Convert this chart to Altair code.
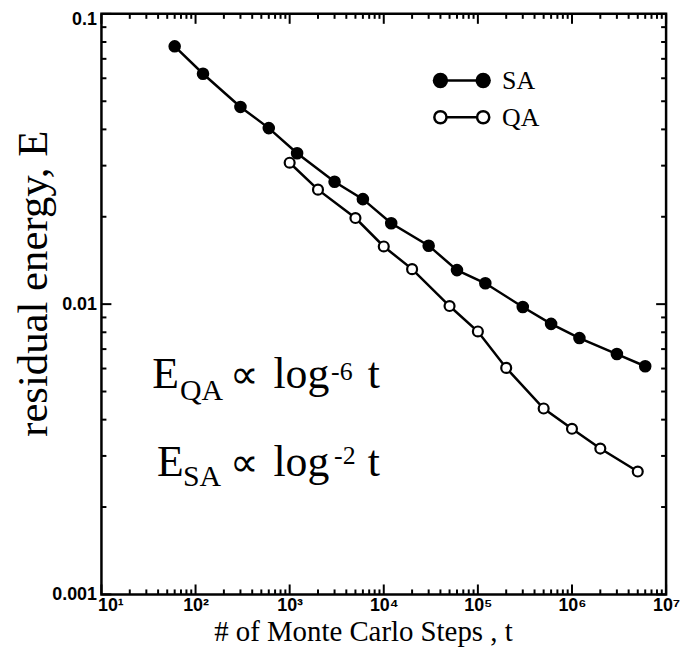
import altair as alt
import pandas as pd

# ---- data ----
sa_t = [60, 120, 300, 600, 1200, 3000, 6000, 12000, 30000, 60000, 120000,
        300000, 600000, 1200000, 3000000, 6000000]
sa_e = [0.0773, 0.0622, 0.0478, 0.0404, 0.0331, 0.0264, 0.0230, 0.0190,
        0.0159, 0.0131, 0.0118, 0.00978, 0.00855, 0.00764, 0.00673, 0.00611]
qa_t = [1000, 2000, 5000, 10000, 20000, 50000, 100000, 200000, 500000,
        1000000, 2000000, 5000000]
qa_e = [0.0307, 0.0248, 0.0198, 0.0158, 0.0132, 0.00985, 0.00805, 0.00603,
        0.00437, 0.00372, 0.00318, 0.00265]

x_major = [10, 100, 1000, 10000, 100000, 1000000, 10000000]
x_minor = [m * 10 ** k for k in range(1, 7) for m in range(2, 10)]
y_major = [0.001, 0.01, 0.1]
y_minor = [m * 10 ** k for k in (-3, -2) for m in range(2, 10)]

x_title = "# of Monte Carlo Steps , t"
y_title = "residual energy, E"

sa = pd.DataFrame({"t": sa_t, "E": sa_e})
qa = pd.DataFrame({"t": qa_t, "E": qa_e})

W, H = 568, 584
MAJ, MIN = 10, 5

xscale = alt.Scale(type="log", domain=[10, 1e7], nice=False)
yscale = alt.Scale(type="log", domain=[0.001, 0.1], nice=False)

sup = "['⁰','¹','²','³','⁴','⁵','⁶','⁷','⁸','⁹']"

x_axis = alt.Axis(
    orient="bottom", values=x_major, ticks=False, domain=False, grid=False,
    labelPadding=2, labelFlush=False, labelOverlap=False,
    labelOffset={"condition": {"test": "datum.value <= 10", "value": 9}, "value": 0},
    labelExpr="'10' + " + sup + "[round(log(datum.value)/LN10)]",
    titleFontSize=29, titleX=263, titleY=46, titleBaseline="alphabetic",
    titleAlign="center",
)
y_axis = alt.Axis(
    orient="left", values=y_major, ticks=False, domain=False, grid=False,
    labelPadding=5, labelFlush=False, labelOverlap=False, format="~g",
    labelOffset={"condition": {"test": "datum.value >= 0.1", "value": 6}, "value": 0},
    titleFontSize=43, titleX=-55, titleY=271, titleBaseline="alphabetic",
    titleAlign="center", titleAngle=270,
)


def X(field="t"):
    return alt.X(field + ":Q", scale=xscale, axis=x_axis, title=x_title)


def Y(field="E"):
    return alt.Y(field + ":Q", scale=yscale, axis=y_axis, title=y_title)


qa_line = alt.Chart(qa).mark_line(color="black", strokeWidth=2.5).encode(x=X(), y=Y())
sa_line = alt.Chart(sa).mark_line(color="black", strokeWidth=2.5).encode(x=X(), y=Y())
qa_pts = alt.Chart(qa).mark_point(shape="circle", filled=True, fill="white",
                                  stroke="black", strokeWidth=2.2, size=100,
                                  opacity=1).encode(x=X(), y=Y())
sa_pts = alt.Chart(sa).mark_point(shape="circle", filled=True, color="black",
                                  size=160, opacity=1).encode(x=X(), y=Y())


# inward tick marks on all four sides, placed by the same scales
def xticks(vals, yc, length):
    return alt.Chart(pd.DataFrame({"v": vals})).mark_tick(
        color="black", thickness=2, size=length, orient="vertical",
        opacity=1).encode(x=X("v"), y=alt.value(yc))


def yticks(vals, x0, x1):
    return alt.Chart(pd.DataFrame({"v": vals})).mark_rule(
        color="black", strokeWidth=2, orient="horizontal").encode(
        y=Y("v"), x=alt.value(x0), x2=alt.value(x1))


ticks = [
    xticks(x_major, H - MAJ / 2, MAJ), xticks(x_minor, H - MIN / 2, MIN),
    xticks(x_major, MAJ / 2, MAJ), xticks(x_minor, MIN / 2, MIN),
    yticks(y_major, 0, MAJ), yticks(y_minor, 0, MIN),
    yticks(y_major, W - MAJ, W), yticks(y_minor, W - MIN, W),
]

one = pd.DataFrame({"a": [0]})


def txt(s, x, y, size):
    return alt.Chart(one).mark_text(text=s, align="left", baseline="alphabetic",
                                    font="Liberation Serif", fontSize=size,
                                    color="black").encode(
        x=alt.value(x), y=alt.value(y))


annots = [
    txt("E", 51, 376, 44), txt("QA", 79, 388, 30), txt("∝", 129, 376, 40),
    txt("log", 173, 376, 44), txt("-6", 231, 368, 26), txt("t", 268, 376, 44),
    txt("E", 56, 465, 44), txt("SA", 82, 475, 30), txt("∝", 129, 465, 40),
    txt("log", 173, 465, 44), txt("-2", 234, 453, 26), txt("t", 268, 465, 44),
]

# legend
leg = [
    alt.Chart(one).mark_rule(color="black", strokeWidth=2.5).encode(
        x=alt.value(341), x2=alt.value(384), y=alt.value(67)),
    alt.Chart(one).mark_rule(color="black", strokeWidth=2.5).encode(
        x=alt.value(341), x2=alt.value(384), y=alt.value(104)),
]
for px in (341, 384):
    leg.append(alt.Chart(one).mark_point(shape="circle", filled=True, color="black",
                                         size=240, opacity=1).encode(
        x=alt.value(px), y=alt.value(67)))
    leg.append(alt.Chart(one).mark_point(shape="circle", filled=True, fill="white",
                                         stroke="black", strokeWidth=2.5, size=150,
                                         opacity=1).encode(
        x=alt.value(px), y=alt.value(104)))
leg.append(txt("SA", 403, 76, 26))
leg.append(txt("QA", 403, 113, 26))

chart = alt.layer(qa_line, sa_line, qa_pts, sa_pts, *ticks, *annots, *leg).properties(
    width=W, height=H,
    padding={"left": 94, "top": 4, "right": 15, "bottom": 52},
    autosize=alt.AutoSizeParams(type="none"),
).configure_view(
    stroke="black", strokeWidth=2.5
).configure_axis(
    labelFont="Liberation Sans", labelFontSize=18, labelFontWeight="bold",
    labelColor="black",
    titleFont="Liberation Serif", titleFontWeight="normal", titleColor="black",
)

chart.save("out.html", embed_options={"renderer": "svg", "actions": False})
